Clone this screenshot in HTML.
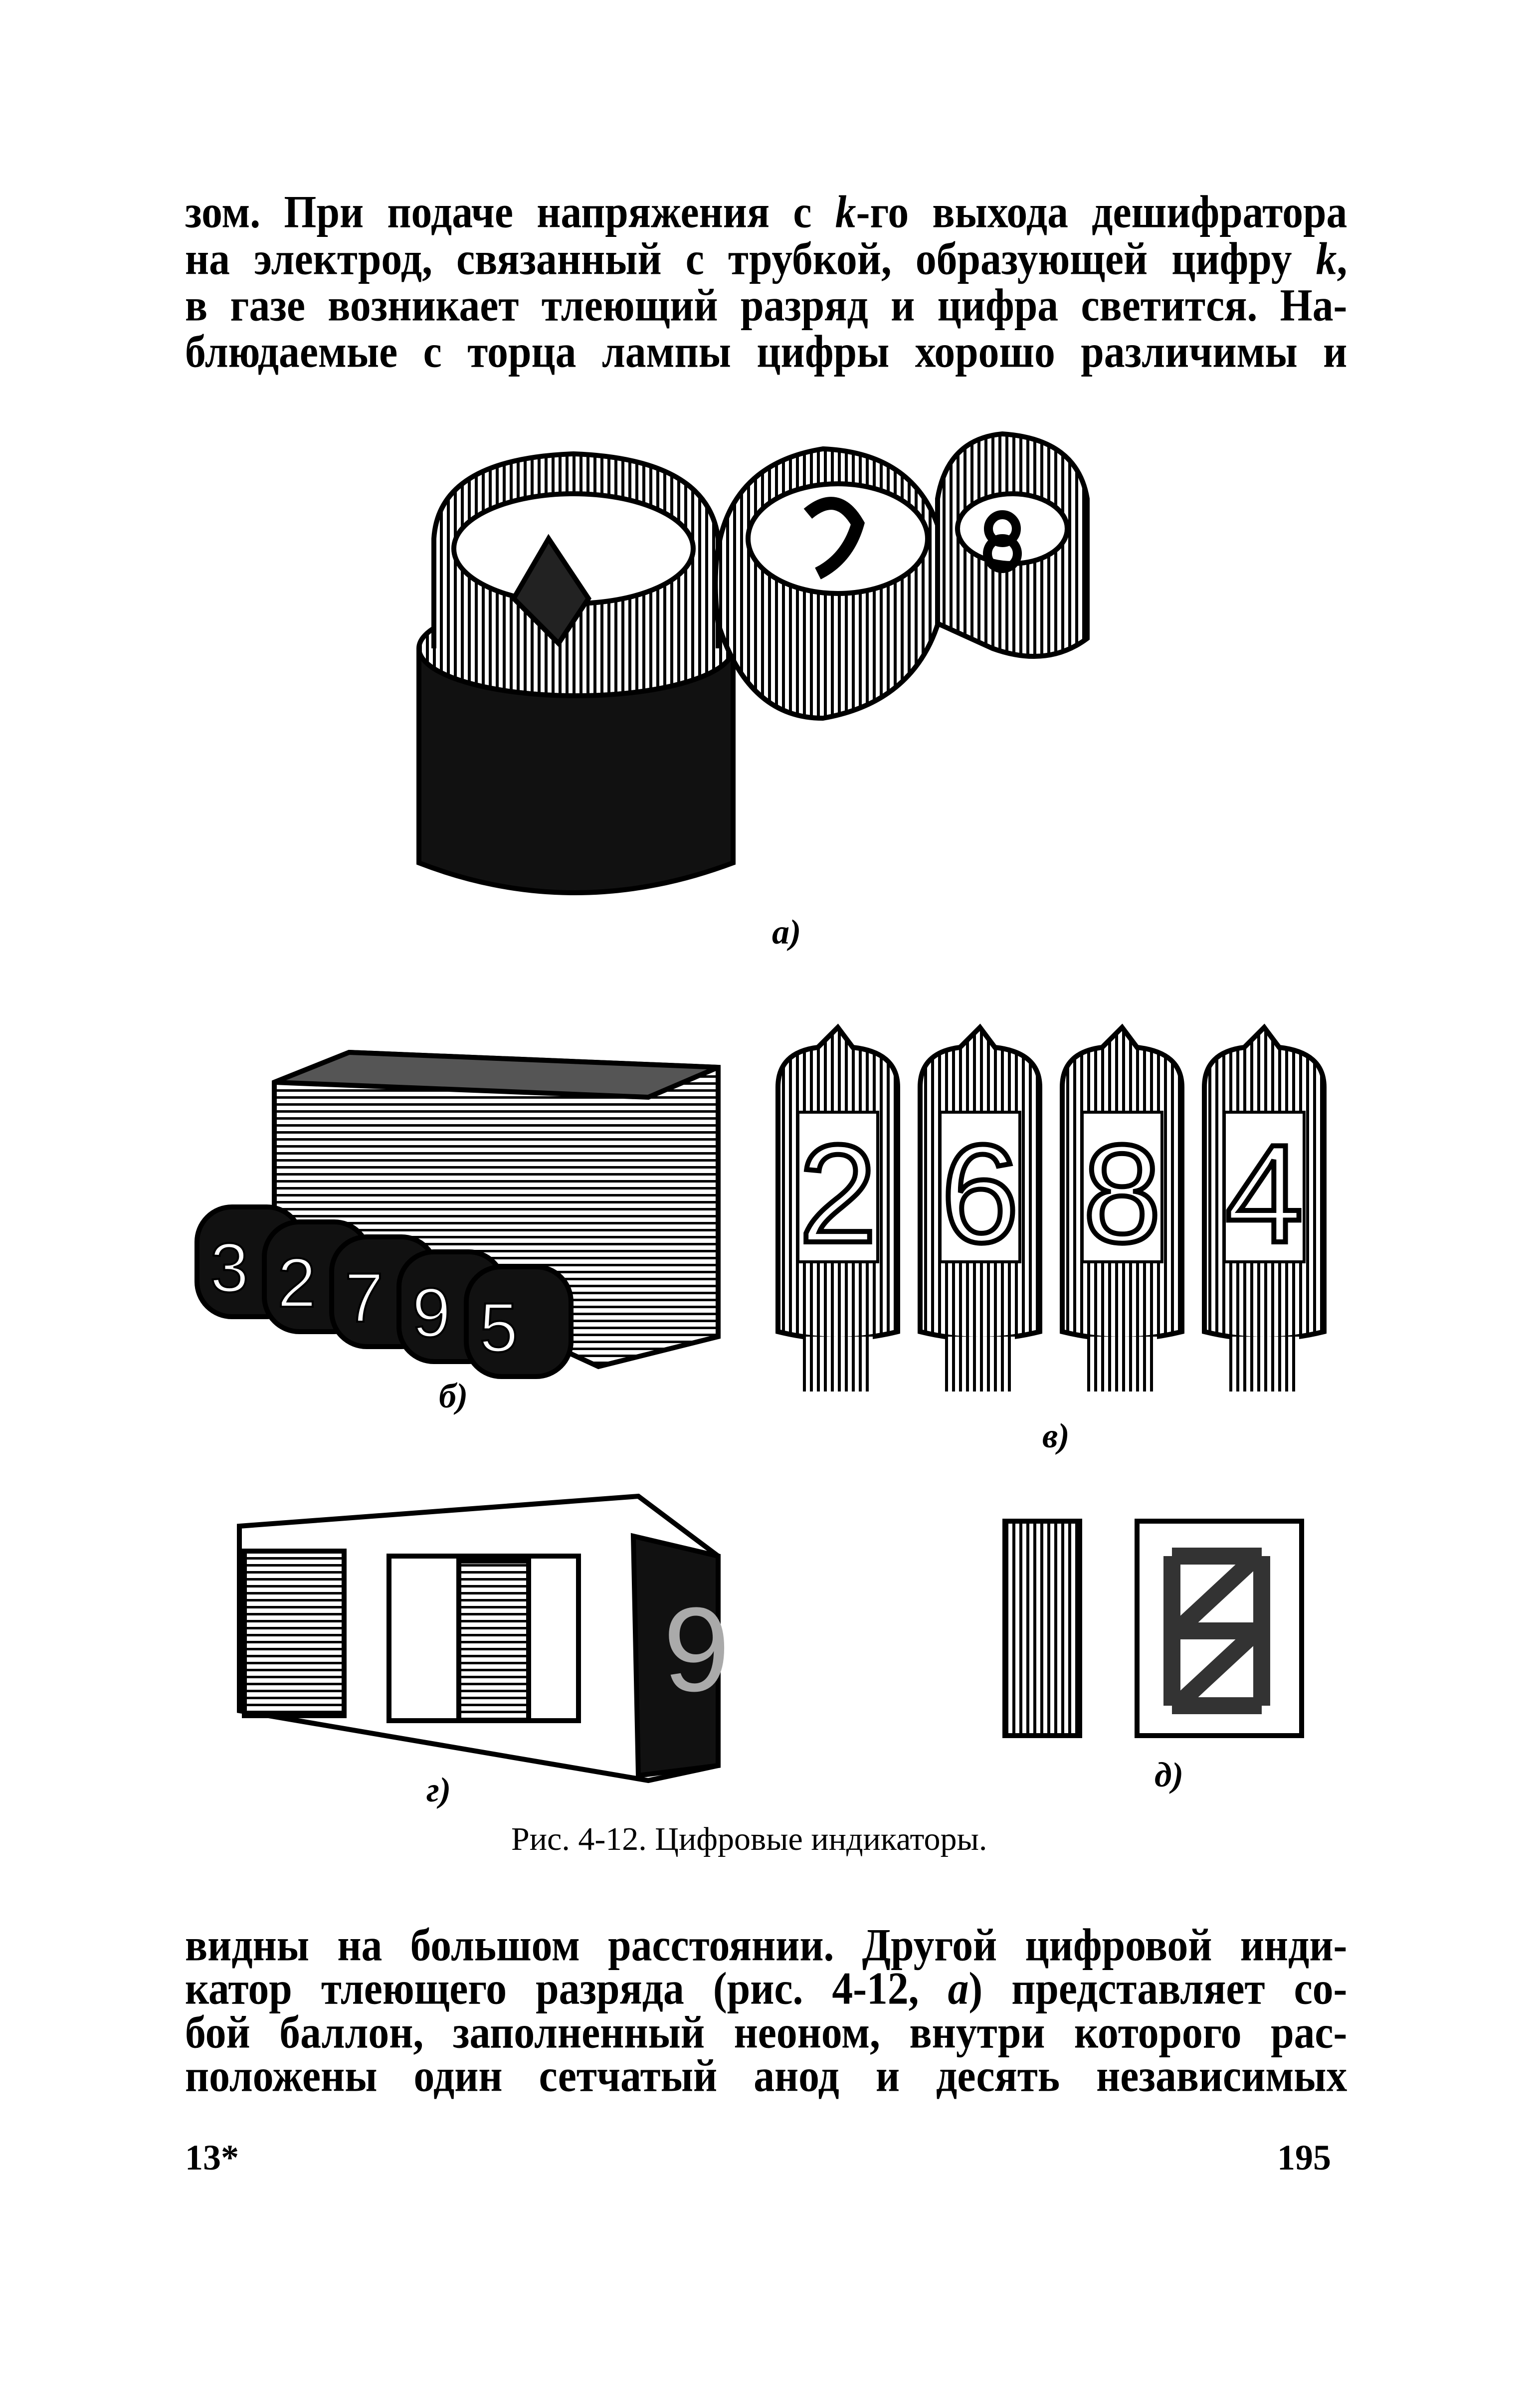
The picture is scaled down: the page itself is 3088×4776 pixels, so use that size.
<!DOCTYPE html>
<html><head><meta charset="utf-8"><style>
html,body{margin:0;padding:0;background:#fff}
body{width:3088px;height:4776px;position:relative;overflow:hidden;font-family:"Liberation Serif",serif;color:#000}
.l{position:absolute;left:371px;font-size:88px;font-weight:bold;line-height:1;text-align:justify;text-align-last:justify;white-space:nowrap;transform-origin:left top;transform:scale(0.95,1.05);width:2453px}
.s{position:absolute;font-size:70px;font-weight:bold;font-style:italic}
svg{position:absolute;left:0;top:0}
</style></head><body>
<div class="l" style="top:380px">зом. При подаче напряжения с <i>k</i>-го выхода дешифратора</div>
<div class="l" style="top:474px">на электрод, связанный с трубкой, образующей цифру <i>k</i>,</div>
<div class="l" style="top:567px">в газе возникает тлеющий разряд и цифра светится. На-</div>
<div class="l" style="top:660px">блюдаемые с торца лампы цифры хорошо различимы и</div>

<svg width="3088" height="4776" viewBox="0 0 3088 4776">
<defs>
<pattern id="v" width="14" height="14" patternUnits="userSpaceOnUse"><rect width="14" height="14" fill="#fff"/><rect width="6" height="14" fill="#000"/></pattern>
<pattern id="h" width="14" height="14" patternUnits="userSpaceOnUse"><rect width="14" height="14" fill="#fff"/><rect width="14" height="5" fill="#000"/></pattern>
</defs>
<g stroke="#000" stroke-width="10" fill="none">
<path d="M840 1300 L840 1730 Q1150 1850 1470 1730 L1470 1300" fill="#111"/>
<ellipse cx="1155" cy="1300" rx="315" ry="95" fill="url(#v)"/>
<path d="M870 1300 L870 1080 Q880 920 1150 910 Q1420 920 1440 1080 L1440 1300" fill="url(#v)"/>
<ellipse cx="1150" cy="1100" rx="240" ry="110" fill="#fff"/>
<path d="M1030 1200 L1100 1080 L1180 1200 L1120 1290 Z" fill="#222"/>
<path d="M1440 1250 Q1400 940 1650 900 Q1880 910 1900 1150 Q1880 1400 1650 1440 Q1500 1440 1440 1250Z" fill="url(#v)"/>
<ellipse cx="1680" cy="1080" rx="180" ry="110" fill="#fff"/>
<path d="M1620 1030 Q1680 980 1720 1050 Q1700 1120 1640 1150" stroke-width="26"/>
<path d="M1880 1000 Q1900 880 2010 870 Q2160 880 2180 1000 L2180 1280 Q2100 1340 1990 1300 L1880 1250Z" fill="url(#v)"/>
<ellipse cx="2030" cy="1060" rx="110" ry="70" fill="#fff"/>
<circle cx="2010" cy="1060" r="28" stroke-width="18"/><circle cx="2010" cy="1110" r="30" stroke-width="18"/>
</g>
<g stroke="#000" stroke-width="10">
<path d="M550 2170 L700 2110 L1440 2140 L1440 2680 L1200 2740 L550 2440Z" fill="url(#h)"/>
<path d="M700 2110 L1440 2140 L1300 2200 L550 2170Z" fill="#555"/>
<g fill="#111">
<rect x="395" y="2420" width="210" height="220" rx="70"/>
<rect x="530" y="2450" width="210" height="220" rx="70"/>
<rect x="665" y="2480" width="210" height="220" rx="70"/>
<rect x="800" y="2510" width="210" height="220" rx="70"/>
<rect x="935" y="2540" width="210" height="220" rx="70"/>
</g>
</g>
<g font-family="Liberation Sans" font-size="140" fill="#fff" stroke="#000" stroke-width="4" text-anchor="middle">
<text x="460" y="2590">3</text><text x="595" y="2620">2</text><text x="730" y="2650">7</text><text x="865" y="2680">9</text><text x="1000" y="2710">5</text>
</g>
<g stroke="#000" stroke-width="10">
<g id="t">
<path d="M1560 2180 Q1560 2110 1640 2100 L1680 2060 L1710 2100 Q1800 2110 1800 2180 L1800 2670 Q1680 2700 1560 2670Z" fill="url(#v)"/>
<rect x="1600" y="2230" width="160" height="300" fill="#fff" stroke-width="6"/>
<rect x="1610" y="2680" width="140" height="110" fill="url(#v)" stroke="none"/>
</g>
<use href="#t" x="285"/><use href="#t" x="570"/><use href="#t" x="855"/>
</g>
<g font-family="Liberation Sans" font-size="280" fill="#fff" stroke="#000" stroke-width="10" text-anchor="middle">
<text x="1680" y="2490">2</text><text x="1965" y="2490">6</text><text x="2250" y="2490">8</text><text x="2535" y="2490">4</text>
</g>
<g stroke="#000" stroke-width="10">
<path d="M480 3060 L1280 3000 L1440 3120 L1440 3540 L1300 3570 L480 3430Z" fill="#fff"/>
<rect x="490" y="3110" width="200" height="330" fill="url(#h)"/>
<rect x="780" y="3120" width="380" height="330" fill="#fff"/>
<rect x="920" y="3130" width="140" height="320" fill="url(#h)"/>
<path d="M1270 3080 L1440 3120 L1440 3540 L1280 3560Z" fill="#111"/>
</g>
<text x="1330" y="3390" font-family="Liberation Sans" font-size="240" fill="#aaa">9</text>
<g stroke="#000" stroke-width="10" fill="#fff">
<rect x="2015" y="3050" width="150" height="430" fill="url(#v)"/>
<rect x="2280" y="3050" width="330" height="430"/>
<path d="M2350 3120 L2530 3120 M2350 3270 L2530 3270 M2350 3420 L2530 3420 M2350 3120 L2350 3270 M2530 3120 L2530 3270 M2350 3270 L2350 3420 M2530 3270 L2530 3420 M2370 3260 L2510 3130 M2370 3410 L2510 3280" stroke-width="34" stroke="#333"/>
</g>
</svg>
<div class="s" style="left:1548px;top:1830px">а)</div>
<div class="s" style="left:880px;top:2760px">б)</div>
<div class="s" style="left:2090px;top:2840px">в)</div>
<div class="s" style="left:855px;top:3550px">г)</div>
<div class="s" style="left:2315px;top:3520px">д)</div>
<div style="position:absolute;left:1025px;top:3650px;font-size:66px;white-space:nowrap">Рис. 4-12. Цифровые индикаторы.</div>

<div class="l" style="top:3855px">видны на большом расстоянии. Другой цифровой инди-</div>
<div class="l" style="top:3942px">катор тлеющего разряда (рис. 4-12, <i>а</i>) представляет со-</div>
<div class="l" style="top:4030px">бой баллон, заполненный неоном, внутри которого рас-</div>
<div class="l" style="top:4117px">положены один сетчатый анод и десять независимых</div>
<div style="position:absolute;left:371px;top:4285px;font-size:72px;font-weight:bold">13*</div>
<div style="position:absolute;right:419px;top:4285px;font-size:72px;font-weight:bold">195</div>
</body></html>
